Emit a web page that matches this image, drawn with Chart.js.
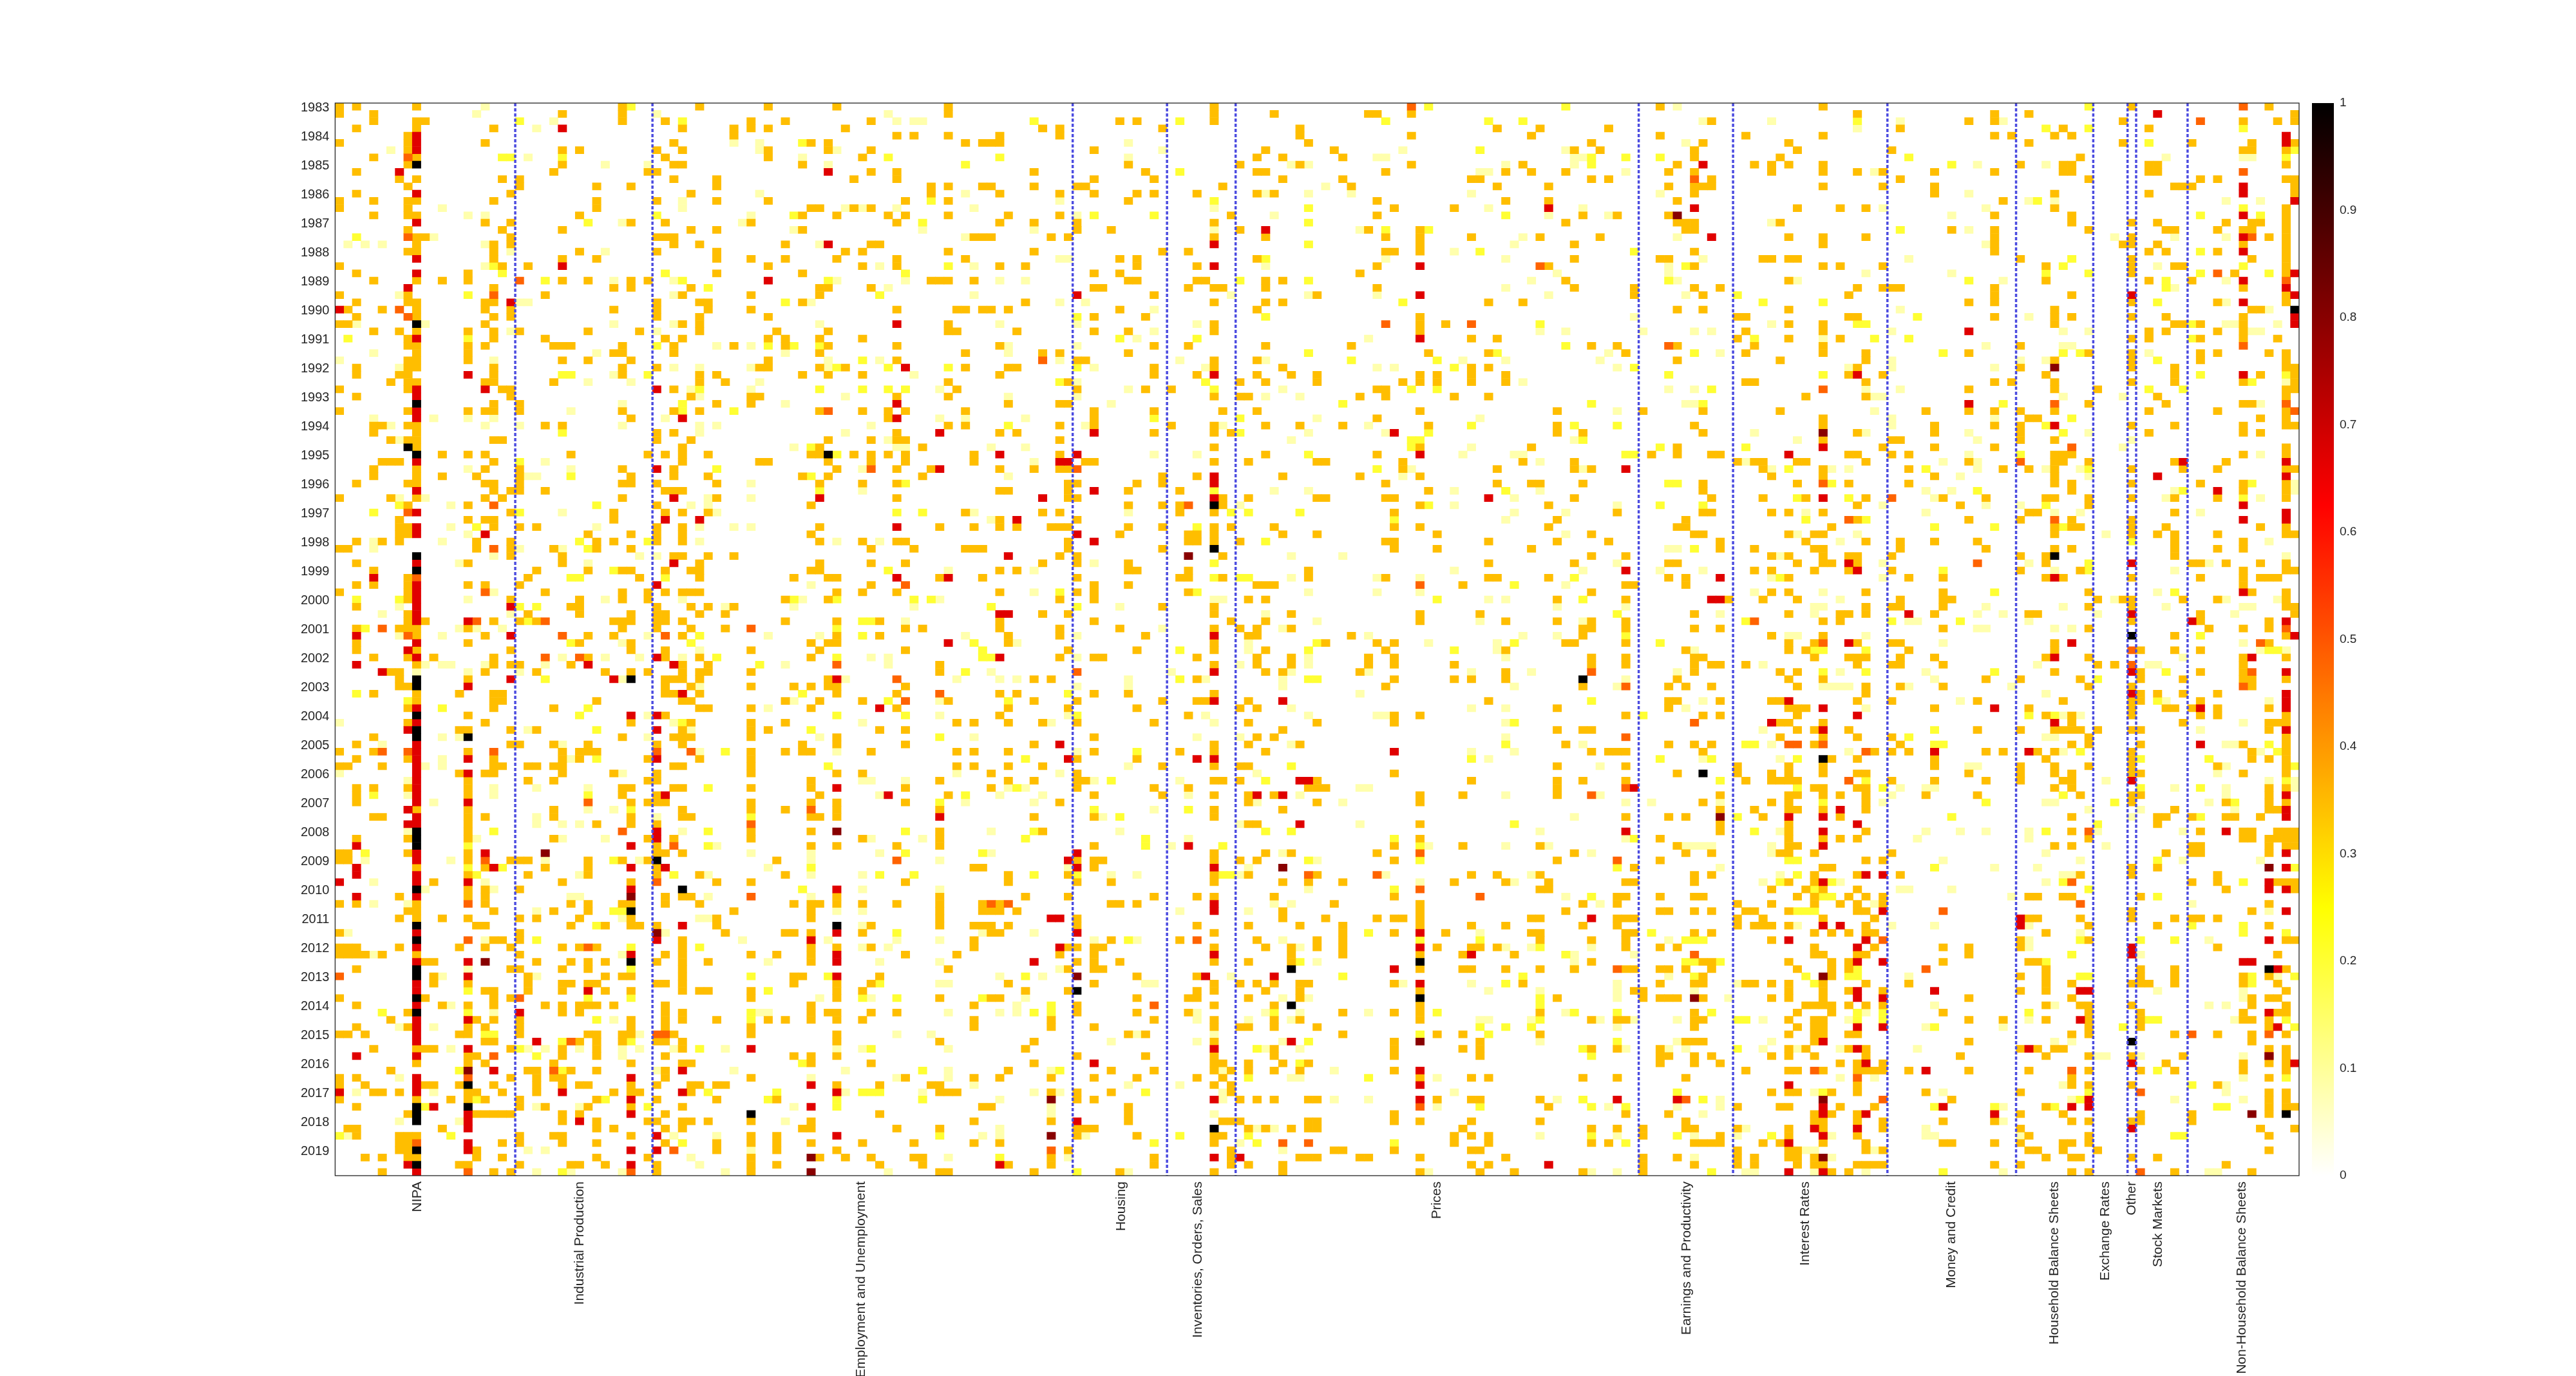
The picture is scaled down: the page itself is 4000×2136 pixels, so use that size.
<!DOCTYPE html>
<html>
<head>
<meta charset="utf-8">
<script src="https://cdn.jsdelivr.net/npm/chart.js@4"></script>
<style>
  body { margin: 0; background: #fff; }
  #main { position: absolute; left: 0; top: 0; }
  #bar { position: absolute; left: 3590px; top: 0; }
</style>
</head>
<body>
<canvas id="main" width="4000" height="2136"></canvas>
<canvas id="bar" width="100" height="2136"></canvas>
<script>
const years = [1983,1984,1985,1986,1987,1988,1989,1990,1991,1992,1993,1994,1995,1996,1997,1998,1999,2000,2001,2002,2003,2004,2005,2006,2007,2008,2009,2010,2011,2012,2013,2014,2015,2016,2017,2018,2019];
const groupNames = ['NIPA','Industrial Production','Employment and Unemployment','Housing','Inventories, Orders, Sales','Prices','Earnings and Productivity','Interest Rates','Money and Credit','Household Balance Sheets','Exchange Rates','Other','Stock Markets','Non-Household Balance Sheets'];
const groupTicks = [9.6,28.5,61.3,91.7,100.6,128.5,157.6,171.4,188.5,200.5,206.4,209.5,212.6,222.3];
const groupEdges = [21,37,86,97,105,152,163,181,196,205,209,210,216];
const colorbarTicks = [0,0.1,0.2,0.3,0.4,0.5,0.6,0.7,0.8,0.9,1];
const amberValue = 0.345, redValue = 0.67, yellowValue = 0.2, paleValue = 0.08, orangeValue = 0.48, darkValue = 0.8;

// each entry is [row, column, column, ...]; row 0 is 1983 Q1
const amberLeft = [
[0,0,2,9,33,42,50,58,71],[1,0,4,26,33,71],[2,4,9,10,33,38,48,52,62],[3,2,9,18,40,46,48,50,59],[4,8,46,65,67,71],[5,0,8,17,39,55,57,73,75],[6,8,26,28,37,40,50,57,62],[7,4,9,38,50,61],[8,8,26,39,40,54],[9,2,25,36,37,62,65],
[10,7,9,19,21,39,44,60,65],[11,8,21,30,34,44,69,71,75],[12,2,20,41,69],[13,0,4,8,9,18,30,37,44,50,66,71],[14,0,8,30,55,56,60,62],[15,4,8,9,28,54,58,64,66,71],[16,17,20,34,38,48,65],[17,8,19,26,41,44,54],[18,9,10,20,37,38,39,74,75],[19,9,18,20,39,42,52,62,63],
[20,8,9,18,28,37,44,59,61,71],[21,18,26,30,44,48,52,58,65,73],[22,0,19,22,50,61,65],[23,2,15,44,54],[24,4,9,12,15,26,29,34,36,69,70,71,74],[25,18,32,34,41,56,57,62],[26,0,8,24,40,48,56],[27,2,8,9,17,18,37,42,43,54],[28,1,5,9,17,20,32,37,43,48,65,72,73,75],[29,2,9,18,20,37,42,50],
[30,0,1,17,40,42,71],[31,4,7,9,15,18,21,29,35,42,51,57,71,72],[32,8,18,24,38,40,50,52,56,61],[33,8,9,15,17,25,26,27,33,39,46,52,57,65],[34,9,15,32,33,39,56,73],[35,8,9,15,26,29,34,50,65],[36,2,8,9,18,33,37,49,50,56,59,73],[37,2,7,8,18,33,42,44,54,57,61],[38,6,8,9,17,18,25,42,45,71],[39,0,8,19,20,39,72],
[40,2,20,41,48,49,65,71],[41,18,21,44,48],[42,0,8,15,17,18,21,33,39,42,56,61,64,66,73],[43,34,64],[44,4,5,8,9,24,26,71,73],[45,4,9,37,39,65],[46,6,8,9,18,19,37,41,57,62,65,66],[47,9,40,56,68],[48,12,15,17,27,36,38,40,43,55,56,60,62,64,66,74],[49,5,6,7,18,40,49,50,57,62,66,74],
[50,4,9,17,21,33,39,58,65,69],[51,4,9,12,16,21,34,39,43,54,57,68],[52,2,8,9,17,18,21,33,34,37,44,56,61,65],[53,18,20,21,24,38,39,40],[54,0,6,9,17,19,33,44,65],[55,8,15,37,55],[56,20,32,38,40,43,73],[57,7,15,17,18,32],[58,7,8,18,21,23,37,40,56,70,74],[59,7,8,29,34,37,40,55],
[60,2,5,7,16,20,30,32,37,40,56,61,65,66],[61,0,1,16,20,25,30,34,62,67,73,74,75],[62,20,26,39,40,43,46],[63,2,15,26,42,56,62,66],[64,4,23,29,33,34,38,41,42,55,56],[65,8,22,35,42,53,57,58,70,75],[66,2,4,8,15,17,21,62],[67,0,8,24,33,36,38,40,41,42,58,61,65],[68,8,20,28,33,36,52,57],[69,2,27,28,37,41,43,46],
[70,8,22,28,34,37,38,42,45],[71,8,10,18,21,23,32,33,34,37,38,40,52,58,63],[72,2,7,8,9,15,33,37,41,45,66,68],[73,9,17,29,32,40,58,63],[74,2,15,28,34,55,57,58],[75,2,9,20,34,38,48,56,66],[76,4,8,11,18,29,38,42,55],[77,9,18,20,21,27,40,43,70],[78,6,7,17,23,31,34,36,40,42,43,48,70],[79,7,15,38,39,40,42,57],
[80,7,8,38,41,48,53,55,57,58,66],[81,4,9,14,18,19,38,39,42,58,65],[82,9,18,19,30,40,41,52,56,61,71],[83,8,18,25,42,43,48,55,65],[84,15,38],[85,8,17,34,41,48,52,72,74],[86,14,15,20,23,40,48,50,63,66],[87,4,33,39,40,41,48,58],[88,2,20,21,25,29,37,40,54,58,66],[89,0,4,15,26,28,29,30,48,52,54,55,62,72,74],
[90,2,8,18,26,28,36,42,48],[91,0,1,5,18,19,22,23,25,26,39,40,48,72,74],[92,14,17,18,26,32,37,48,58,61],[93,15,22,25,36,37,55,70],[94,2,4,8,15,33,34,39,40,48,55,66],[95,2,15,33,37,56,71],[96,2,34,36,37,38,48,55,58,66],[97,9,15,25,40,48,52,58,70],[98,4,5,15,17,25,34,40,41,55,56,58],[99,15,30,34,37],
[100,15,48,55,70],[101,2,8,15,25,36,39,48,61,70],[102,37,55,58,65,70],[103,0,1,8,15,37,38,40],[104,0,1,15,20,21,22,29,33,36,51],[105,9,17,24,29,37,74,75],[106,15,22,29,37,42,52],[107,11,26,34,44,48,66],[108,15,17,21],[109,7,15,17,38,40,41,58,70],
[110,0,2,9,17,27,29,33,34,38,42,53,55,56,58,61,65,70,75],[111,8,9,18,25,29,46,55,70,75],[112,7,9,12,15,21,23,28,34,44,55,70],[113,16,17,27,31,34,35,37,44,62,70,74,75],[114,0,21,37,45,52,53,55,61],[115,18,19,21,40,74],[116,0,1,2,7,14,17,20,26,28,30,40,55,58,62,74],[117,0,1,2,3,5,9,21,38,40,48,51,55,66,72],[118,10,11,23,27,29,31,37,40,43,55],[119,2,20,21,26,29,40,71],
[120,11,22,31,33,34,40,53,54,63],[121,11,15,22,26,27,29,30,37,38,40,53,58,62],[122,17,18,22,26,31,34,40,42,43,48,58,61],[123,0,10,18,20,48,58,70],[124,2,12,15,18,24,26,28,29,30,32,38,55,74],[125,8,26,28,38,40,55,57,58,62,65],[126,6,16,18,21,34,38,40,44,50,52,55,58,61,74],[127,2,8,15,17,21,34,38,48,74],[128,0,1,3,14,15,21,29,30,33,34,39,48,58],[129,17,18,28,30,33,37,38,40,58,70],
[130,4,9,10,11,20,26,30,40],[131,15,16,26,30,38,53,55,58],[132,9,15,17,25,34,40,41,55,62],[133,6,22,23,27,30,38],[134,0,2,20,23,25,26,38,48,66,74],[135,0,3,10,11,14,18,23,26,28,29,34,37,41,42,44,45,58,63,69,70],[136,4,5,7,15,16,19,23,32,34,35,41,70,71,72],[137,0,9,13,15,17,21,30,37,44,51],[138,2,21,24,29,34,40,75],[139,8,16,17,18,19,20,26,28,38,63],
[140,26,30,36,37,40,41,43,48,55,74],[141,1,2,12,30,32,38,40,54,55,65,70],[142,2,7,8,9,21,25,26,34,48,51],[143,7,8,19,21,26,30,38,44,48,51,55,61,67,74],[144,7,8,16,44,51,58],[145,3,5,8,9,16,19,30,36,48,56,59,62,67,68],[146,14,15,21,27,28,31,37,48,51,63,68],[147,5,18,20,37,48,70,71]
];
const amberMid = [
[0,102],[1,102,109,120,121,125],[2,91,93,102],[3,82,84,96,112,135,140,148],[4,77,84,112,125,139],[5,76,77,113,146],[6,88,108,116,144,147],[7,107,110,117],[8,92,105,112,125,138],[9,81,94,107,108,122,136,139,143],
[10,88,95,110,117,132,133,146,148],[11,76,81,86,87,103,118,135,141],[12,77,84,88,93,95,100,107,109],[13,92,121,136,141],[14,123,130],[15,78,84,104,121,145,149],[16,77,81,86,102,143],[17,86,90,105,120,126],[18,76,83,85,102,108,122,126,132,140,147],[19,126,144],
[20,81,96,99,122,123,126],[21,91,93,107,144],[22,77,80,93,100,121,141],[23,88,91,119],[24,92,93,100,101,108,110,143],[25,88,89,99,102,103,108,121,144,151],[26,95,114,151],[27,80,102,108,110,134,138],[28,76,78,91,107],[29,88,94,126],
[30,102,126,129],[31,79,88,92,102,126],[32,132,135],[33,77,95,99,108,118,146,149],[34,82,84,92,127,134,150],[35,86,87,102,107],[36,78,79,95,102,110,132,134],[37,77,95,100,107,111,114,126,128,132,136],[38,85,105,108,114,124,126,128,132,136],[39,86,94,97,121,122],
[40,102,105,106,119,122,130,134],[41,78,84,85],[42,88,95,103,107,126,142,152],[43,88,121],[44,84,88,97,102,108,112,117,127,142],[45,77,79,95,102,104,142,145],[46,84],[47,102,126,139],[48,84,108,121],[49,87,88,102,106,114,115,124,138,144],
[50,77,81,84,85,124,135,144,146],[51,96,100,110,119,126],[52,85,86,93,96,122,135,139,140,145],[53,77,78,85,92,98,127],[54,85,86,103,106,114,115,122,123,144],[55,92,96,98,103,126,141],[56,82,84,98,102,123,149],[57,77,86,142],[58,77,79,83,84,85,92,96,102,104,109,123,126,141],[59,91,99,100,102,110,114,128,146],
[60,85,99,100,102,105,122,123,134,142,148],[61,85,96,123,128,139],[62,84,86,103,146,150],[63,82,86,92,134,144],[64,77,79,92,93,99,113],[65,86,98,99,103,113,122,134,135,141],[66,88,92,107,108,109,131,150,151],[67,77,86,88,99,146],[68,84,88,106,108,142,150],[69,96,102],
[70,82,85,102,111,126,133],[71,77,88,104,108,126,136,142,146,150],[72,77,84,91,102,105,107,111,145,146,150],[73,78,84,94,106,107,118,145],[74,78,102,115,121,123,143,144,150],[75,85,93,102,108,122,136],[76,84,88,89,100,107,111,120,123,146,150],[77,102,107,111,120,123,130,146,150],[78,108,110,119,136],[79,81,83,100,123,130,132,136],
[80,122,145],[81,77,79,88,92,102],[82,81,86,96,100,101,106,134],[83,78,85,93,105,107,142],[84,77,99,123,126,150],[85,78,82,86,95,106,114,123],[86,110,142,145,146],[87,88,107,109],[88,81,102,106,112,143],[89,78,88,98,102,108,146,148,149,150],
[90,86,93],[91,78,82,96,102,105,106,142,150],[92,76,86,123],[93,78,81,86,87,102,103,105,114,132,142,145,150],[94,76,86,95,99,113,114,115,142],[95,88,96,102,106,109,126,131,142],[96,84,106,114,126],[97,102,110],[98,81,88,102,150],[99,106,107,126],
[100,82],[101,126],[102,88,123,131,140],[103,102,108,111,121,144],[104,86,88,89,102,105,107,123,142],[105,88,151],[106,78,85,102,106,114,132,135,140],[107,78,86,90,102,110,113,117,130,136,141,150,151],[108,140,141],[109,80,85,95,100,102,109,123,149,150],
[110,77,90,91,93,116,126,145,149],[111,76,77,79,110,126,143],[112,86,110,115,121,123,124,126,139,140,149,150,151],[113,76,78,86,100,106,112,117,126,132,136,145,149],[114,76,77,102,117,123,129,139,140,150,151],[115,90,98,107,114,117,140,146,150],[116,85,86,88,89,102,108,111,114,117,128,132,133,135,150],[117,84,88,111,117,126,131,137],[118,86,88,91,102,106,111,146],[119,85,88,89,126,131,132,136,140,144,150,151],
[120,93,100],[121,78,88,102,105,107,109,112,113,123,138],[122,80,85,100,102,108,112,126,151,152],[123,76,77,93,99,100,106,112,142,152],[124,86,102,109,126],[125,86,93,99,117,123,126,140],[126,83,95,102,109,112,126,146,149,150],[127,83,88,102,105,106,109,114],[128,92,94,117,128,131,140],[129,81,102,123,133],
[130,80,109,123,131,133,146,149],[131,86,94,102,109,123,133],[132,81,102,103,106,110,113],[133,78,90,95,102,104,106,109,112,123],[134,77,83,88,93,100,103,126,132,134,145,149],[135,102,104],[136,83,86,90,104],[137,86,88,105,107,109,113,114,128,132,133,140],[138,76,92,141],[139,92,123,150],
[140,83,92,103,104,105,113,114,123,126,132,140],[141,86,87,88,106,108,111,113,114,131,146,149,152],[142,86,93,102,103,130,132,134,152],[143,77,102,130,134,146,148],[144,85,104,116,117,123,132,133],[145,83,95,104,112,113,114,119,120,126,136,152],[146,78,83,95,104,106,110,132,134,152],[147,81,91,102,110,126,133,137,145,152]
];
const amberRight = [
[0,154,173,209,225],[1,177,193,197,228],[2,160,190,193,208,222,226,228],[3,182,201,211],[4,154,164,173,193,195,200,202],[5,159,169,197,208,216,223,228],[6,158,170,181,222,223,227],[7,158,168,203],[8,156,165,167,169,173,196,201,202,211,212,227],[9,155,158,167,173,177,180,186,193,201,202,211,212],
[10,160,182,204,217,219,227,228],[11,155,158,159,160,173,180,186,214,215,216,228],[12,158,186,200,211,228],[13,156,194],[14,170,175,178,200,227],[15,155,193,202,227],[16,156,157,158,168,202,209,212,220,223,224,227],[17,157,158,188,193,204,213,214,219,222,223,227],[18,169,173,178,193,209,225,227],[19,173,193,208,209,212,222,227],
[20,158,193,211,213,219,227],[21,154,155,166,167,169,170,196,209,223,227],[22,158,173,175,180,199,209,214,215,227],[23,209,221,227],[24,169,199,211,216],[25,158,161,177,180,181,182,193,222],[26,159,176,202,193,227],[27,190,193,209,219,227],[28,156,159,169,200,223,224],[29,163,164,176,177,193,200,202,209,213,222],
[30,169,173,200,214,215,217,222],[31,164,173,211,213,219,222],[32,163,169,175,209,211,217,222,226],[33,156,165,173,196,],[34,164,173,178,190,204,209,217,219,225,227],[35,156,168,178,200,209,217,227],[36,177,196,209,214,227,228],[37,176,180,199,214,224,228],[38,164,165,178,193,195,200,209,214,222,228],[39,190,200,205,227,228],
[40,171,178,212,227],[41,204,213,222,223],[42,159,168,185,190,193,196,200,211,219,227],[43,173,197,198,224,227],[44,158,173,186,193,196,209,214,222,227,228],[45,159,177,186,196,211,222,224],[46,173,181,182,196,200],[47,156,180,186,193,227],[48,153,156,160,161,176,177,181,183,200,201,202,222,227],[49,163,165,166,170,171,178,190,200,201,204,214,220],
[50,166,173,183,194,197,200,209,215,219,227,228],[51,167,173,186,200],[52,159,170,176,183,200,202,209,217,222,227],[53,159,202,222,227],[54,160,166,171,178,187,192,199,200,204,209,214,219,227],[55,177,189,204],[56,159,160,167,169,173,197,198,214],[57,157,177,190,196,202,209],[58,156,157,174,200,202,203,209,213,224,227],[59,158,159,169,172,173,200,209,212,214,219,227,228],
[60,161,171,178,182,186,191,214,222],[61,161,165,172,173,182,192,200,202,214,219,222],[62,167,169,173,176,177,181,196,199,214],[63,155,156,170,173,174,177,199,216,217,220,224,227],[64,165,167,172,176,181,196,203,222,227,228],[65,155,157,169,183,187,199,201,209,217,222,224,225,226],[66,157,222],[67,167,169,178,187,204,223,227],[68,162,166,170,182,187,188,205,208,209,215,219,227],[69,178,181,182,187,204,209,227,228],
[70,158,169,175,176,178,186,197,198,217,228],[71,173,175,209,217,225],[72,158,161,187,204,218,222,225],[73,167,173,214,227],[74,169,172,177,181,182,200,225],[75,157,169,171,183,200,210,214,217],[76,158,159,172,176,177,178,182,186,199,204,222,227],[77,158,160,161,164,177,181,182,187,205,207,222],[78,158,168,170,200,210,217,222],[79,156,169,173,192,196,203,210,215,222,223,227],
[80,155,157,160,170,178,182,187,204,209,223],[81,178,212,215,219,210],[82,155,156,161,167,168,177,181,191,201,209,210,217],[83,155,169,170,171,186,197,209,213,214,216,219,225],[84,159,161,170,199,202,209,217,219,227],[85,168,169,173,202,215,225,226,227],[86,170,172,176,191,196,200,201,202,203,205,209,210,225],[87,168,173,177,181,204,227],[88,155,158,160,172,182,202,204,210,222,227],[89,159,179,181,183,192,194,198,200,209,223,227],
[90,174,177,186,199,209,223,225,227],[91,163,169,173,186,196,200,204,209,219,227],[92,156,163,167,169,173,177,178,190,196,200,202,209,210,222,227],[93,164,167,168,169,170,181,186,192,196,201,202],[94,172,173,177,178,200,202,225,227],[95,161,169,170,173,175,178,185,191,203,209,210,225],[96,159,167,169,178,209,220,225,227],[97,161,165,169,170,173,178,214,225,226],[98,155,157,166,175,202,212,213,216,220,221,224],[99,161,169,212],
[100,161,169,178,202,217,222,223,226,227,228],[101,154,169,173,175,177,204,222,223,225,226,227,228],[102,156,169,170,200,202,216,217,225,227,228],[103,157,160,168,169,172,181,213,216,217,225],[104,154,178,180],[105,173,174,209,212],[106,158,160,172,177,182,203,209,219],[107,158,169,172,216,219,226,227,228],[108,167,171,173,177,220,228],[109,154,158,159,170,172,176,178,180,197,198,201,202,210],
[110,163,167,172,175,177,180,225],[111,154,155,158,160,164,165,169,177,178,209,223],[112,163,166,173,179,197,198,203,209,214,216,217,219],[113,163,165,166,167,169,178,204,212,225],[114,158,160,172,174,176,178,179,199],[115,167,196,204,227,228],[116,154,156,172,179,187,190,196,219],[117,172,173,177,178,190,226],[118,159,160,169,174,176,187,197,198],[119,154,155,157,160,170,174,176,199,210,214,227],
[120,159,174,196,199,210,214,222,225],[121,154,158,159,164,165,167,169,173,178,183,199,202,209,210,211,214,222,226],[122,169,173,176,180,196,199,227],[123,154,155,156,159,167,169,173,190,202,223,225,226],[124,171,172,173,174,176,178,180,199,203,204,209,223,227],[125,158,170,174,187,204,210,222,226,227],[126,158,159,169,172,173,190,194,199,204,210,222,223,225],[127,158,170,172,173,204,210,225],[128,169,172,173,176,177,202,204,214,219,223,227],[129,157,158,159,172,190,223],
[130,154,169,171,176,178,196,198,200,201,225,227],[131,154,155,158,160,167,169,172,178,189,199,204,209,215,227],[132,154,158,161,175,177,180,213,222,225,227],[133,164,169,170,173,177,178,179,180,183,190,197,204,210,214,222,227],[134,157,202,225],[135,177,202,204,209,219],[136,167,169,170,174,177,185,196,225,227],[137,188,225,227],[138,163,168,169,175,179,199,225,227,228],[139,155,172,174,177,196,201,210,216,225],
[140,157,172,173,177,180,187,193,202,204,209,210,216],[141,157,158,163,169,173,180,196,224,228],[142,161,169,177,197,204,225],[143,158,159,160,161,166,168,173,178,187,188,193,196,201,202,204],[144,163,169,170,178,180,197,198,201,205,225],[145,156,163,165,169,170,172,199,202,203,209,212],[146,158,163,165,170,172,173,177,178,179,180,193,196,220],[147,174,176,202,204,214,223]
];
const paleCells = [
[0,17],[1,16,37,64],[2,25,65,67,68],[3,23,177],[5,46,49,92],[6,6,49,58,96,124,143],[7,22,54,92,121,122,144,145],[8,57,31,36,111,113,136,144],[9,133,134,150],[11,115],
[12,49,73,108,113,118,132],[13,40,84],[14,12,59,61,65,74,40,102,134,145],[15,15,17,48,86,109,141,148],[16,33,47],[17,53,68,81,102,119],[18,11,73,138],[19,1,3,5,17,56,137],[20,20,31,130],[21,84,85,108,122,136],
[22,17,63,74,108],[23,142],[24,32,39,58,66,77,80,139],[25,64,136],[26,7,39,74,104,113,121,141],[27,21,22,55,84,87],[28,95],[29,151],[30,2,10,32,39,56,77,86,100],[31,20,37,95,140,143,152],
[32,93,120],[33,44,48,78,86],[34,4,30,52,78,113,148],[35,0,18,57,63,84,98,108,131,136,147],[36,7,39,42,48,57,88,101,121,123,149],[37,32,67],[38,29,34,49,86,138],[39,41,48,70,92,110],[40,42,59,78,86,108,112],[41,33,52,90],
[42,27,149],[43,4,11,15,18,38,70,73,80,114,133],[44,6,17,21,33,42,44,62,87,103,120],[45,42,59,113,122],[46,7,64,111,144],[47,53,65,66,76,80,132],[48,95,100,131,137,138],[49,24,81,140],
[0,156],[2,159,167,194,182],[3,177],[5,157,223],[7,213,222,223],[8,191,199],[9,179],[12,154,190],[13,197,200,220,224],[14,180,192],[15,188],[16,167],[17,190],[18,156,207,214,220],[19,192],[21,159,183],[22,155,212],[23,155,178,188],[24,156,170,194,220],[25,214],[26,157],[27,212,220],[28,182,225],[29,197],[30,167,220,221,226],[31,158,160,181,201,204,223,224],[32,173],[33,192,201,202],[34,161,211],[35,181,196,199],[36,176,181,193,196],[38,223,227],[39,155,158,178,182],[40,179,180,201,208],[41,157,158,224],[42,179],[43,181,193],[44,181],[45,165,178,190,204],[46,170,191,209],[47,208],[48,190,224],[49,164,187,191],
[50,15,27,61,121,125,145,167,174,176,191,199,203],[51,22,23,78,124,189,204],[52,48,228],[53,61,109,113,130,140,185,188,214,228],[54,7,10,43,48,137,186,213,224],[55,13,41,43,105,130,149,180,192,196],[56,26,44,74,92,137,143,171,185,200,203,217],[57,76,136],[58,13,30,42,46,48],[59,15,143,170,177,206],
[60,4,12,42,58,63,175,225],[61,4,21,26,102,155,156],[62,18,35,37,111,117,168,227],[63,14,29,88,149,180,197,218],[64,81,71,130,145,154,159,200,214],[65,111,121,126,167,180],[66,55,137,143],[67,18,81,113,121,126,165,173,212],[68,15,31,40,54,70,102,103,134,136,175,207,220,226],[69,7,45,53,67,91,142,150,172,173,192,201,213,222,223],
[70,5,20,108,161,172,191,194,205,221],[71,66,18,114,133,145,183,184,197],[72,14,16,19,96,110,191,192,200,202],[73,7,12,36,50,56,73,86,120,138,142,169,170,178],[74,33,79,106,127,135,187,222],[75,42,106,135,158,224,227],[76,26,31,35,40,62,64,86,113,136,215],[77,10,12,13,17,24,52,64,105,113,166,198,211,212],[78,9,15,21,76,97,111,120,132,139,156,175,185],[79,33,59,72,77,79,92,101,110,150,186],
[80,42,86,92,110,137,149,173,174,175,176,183,195],[81,119,199],[82,53,70,159,189,213,225],[83,50,111,132,136,157,178],[84,36,70,85,101,121,122,113,201,203],[85,0,39,61,83,102,136,222],[86,22,41,166,217],[87,12,14,36,56,74,100,105,136,199,200],[88,5,26,111,145,167,220,221],[89,42,58,86,132,137,176,201,224],
[90,12,27,134,159,168],[91,10,12,92,147,190,191,220],[92,0,33,72,84,107,219],[93,8,61,62,66,88,98,206,225,228],[94,18,23,29,78,80,119,120,182,185,186,214,220,228],[95,8,18,63,77,82,99,112,136,147,181,220],[96,11,73,81,107,117,150,153,161,180,199,200,218],[97,29,32,95,204,210,221],[98,23,37,89,144,209],[99,23,26,28,105,119],
[100,8,40,76,91,140,168,185,189,192,197,205,215],[101,16,26,31,48,62,68,99,150,184,197],[102,44,97,127,136,141,157,158,159,160,167,206],[103,48,55,63,76,110,146,167,199],[104,3,13,24,35,55,70,114,187,203,215,224],[105,50,85,106,161,193,198],[106,28,43,55,61,90,93,105,122,139,168,201,202],[107,4,17,126,137,166,175,199],[108,10,18,61,70,113,182,183,188],[109,27,28,43,55,143,195],
[110,4,8,109,111,147,179,216],[111,23,58,61,98,106,225],[112,33,42,43],[113,61,170,175,181,186,197],[114,1,38,75,81,133,203],[115,17,47,57,70,65,88,93,110,155,197,218],[116,64,61,112,136,139,146,197],[117,4,33,144,151,210],[118,50,63,70,114,144],[119,15,84,],
[120,12,23,77,82,104,155,183,226],[121,94,95,70,71,124,132,149,163],[122,134,140,149,158,212,222],[123,56,62,80,110,113,149,162,222],[124,13,79,186,200,218,220],[125,18,49,50,71,77,79,100,108,112,120,143,178],[126,32,100,111,106,133,134,139,147,151,156,166,176,197,221],[127,7,11,139,149,185,194],[128,35,65,69,93,102],[129,90,100,110,140,156,167,200,202],
[130,13,22,24,28,33,35,39,45,58,61,71,107,108,112,150,155,157,166,170,175,184],[131,33,205,206,210,222],[132,],[133,37,46,59,71,83,103,116],[134,7,55,65,71,111,112,128,175,179,222],[135,74,92,98,201,220],[136,2,11,59,68,81,84,103,130,172,187,220],[137,77,103,116,120,142,161,202,214,222],[138,23,28,53,83,128,148,156,161,194],[139,83,102,159],
[140,7,14,52,194],[141,77,107,109,164,185],[142,1,39,44,75,77,87,140,149,158,163,185,186,196,174],[143,105],[144,22,24,48,110,171,172,179],[145,41,71,85,158,174],[146,42],[147,23,27,33,45,64,92,127,146,149,164,165,172,178,194,218,219]
];
const yellowCells = [
[0,34,127,143,204],[2,21,40,81,98,122,134,138,177],[3,199,204,222],[5,54,211],[6,133,158,228],[7,19,20,26,64,77,150,146,154,183,227],[8,73,146,188],[9,98],[13,69,102,198],[14,113,222],
[15,37,53,88,95,136,217,224],[16,29,68,113],[17,86,122,127,182],[18,2],[19,113],[20,133,151,217],[21,108,202],[22,18,71,157,201,222],[23,19,38,66,199,204,217,225],[24,24,40,57,105,113,155,190,213],
[25,43,213],[26,15,63,163],[27,52,124,173,166,212],[29,86,108,184],[30,140,177,178,216],[32,1,15,91,100,165,179,183,216],[33,37,50,53,56,143],[34,113,135,158,150,187,201,203],[35,61,118,128,212],[36,58,64,71,86,130,151],
[37,26,27,36,155,173,217,227],[38,84,101,223],[39,42,56,61,64,66,102,125,128,160,211,215],[41,40,117,146,159,194],[42,40,46],[43,95,105,202],[44,78,132,144,149,199],[45,26,105,127,201],[46,125,126,145],[47,55,125,154,164],[48,58,113,150,151,196],[49,21],
[50,44,121,169,185,204],[51,27,55],[52,66,155,156,174,223],[53,56,102,136,191,215],[54,170,176,222],[55,7,30,127,154,159,199],[56,4,21,65,68,104,106,112],[57,123,171,178],[58,16,100,186,193,201],[60,28,36,108,209],
[61,29,158],[62,],[63,102,204],[64,32,64,187,204],[65,27,28,38,102,105,106,144,168],[66,137],[67,84,100,193,214],[68,2,7,53,58,67,69,128,145],[69,21,23,76,86],[70,149,],
[71,22,61,62,164,181,189],[72,3,58,],[73,42,61,150,217],[74,27,41,74,114,137,154],[75,75,98,113,130,172,173,178,225,226],[76,44,58,75,76],[77,49],[78,73,173,178,193,213],[79,24,98,113,114,205],[81,2,54,85],
[82,8,64,78,146,212],[83,12,29],[84,28,58,66,86,152,197,200],[85,40,137],[86,30,55,186],[87,70,183],[88,136,164,165,186,187,225],[89,45,93,203,226],[90,30,80,132,154,160,170,210,218],[91,57,111,228],
[93,90,108,161,178,227],[94,43,79,170,180,210,217],[95,4,29,73,201],[96,70,173,192,207,221],[97,34,88,99],[98,48,91,163,188,217],[99,137,205],
[100,18,43,66,81,108,111,165,199],[101,123,94,80,151],[102,15,43,94,103,126,156],[103,3,66,75],[104,32,113,126,169,170,212],[105,15,19,55,149,186,228],[106,16,39,63,67,81,86,103,104,170],[107,168,174,201,222],[108,54,123,172,204],[109,173,174,146,212],
[111,32,33,170,171,172],[113,30,216,222],[114,65,120,153,222,227],[115,23,92,126,133,157,158,159,203,210,214],[116,34,42,140],[117,143,202],[118,112,157,158,161,199],[119,34,177,144],[120,48,57,80,117,138,158,171,176,177,203,204,223,228],[121,63,136,172,223],
[122,15,50],[123,29,34,61,65,75,140],[124,83,140],[125,5,15,48,81,83,109,128,144,149,160,177,180,197],[126,30,48,140,163,164,177,180,211,212,227],[127,133,136,139,186,208,228],[128,17,18,126,134],[129,26,34,113,149],[130,21,42,62,107,145,163],[131,23,146],
[132,54,112],[133,14,26,68,84,212],[134,106,120,149,227],[135,216],[136,43,51,61,62,63,94,156,173,204],[137,16,31,50,58,68,145,159,203],[138,10,36,58,133,146,150,186,193,200,219,220],[142,0,13,70,98,106,146,156,167,214,215],[143,40,95,107,123,150],[145,77,],[147,26,86,160,187]
];
const orangeCells = [
[0,125,222],[2,217],[7,8],[9,222],[10,158],[18,8,223],[22,140],[23,219],[24,21,227],[26,18],[28,7],[29,8],[30,122,132],[33,155,222],[35,82],[39,173],[41,200,227],[42,57,228],[47,202],[49,196],
[50,62,86],[52,173],[54,181],[55,18,99],[56,8],[57,176,200],[61,18],[63,191],[65,9],[66,126,66],[67,17],[71,16,24,165],[72,5,48,227],[73,8,26,38],[74,173,224],[75,209],[76,24,28],[77,58,209],[78,86,146,223],[79,65],
[80,150,222],[81,70],[82,66],[85,158],[87,150],[88,169,170,173],[89,5,8,18,37,41,178],[93,176],[94,150],[95,146],[96,29],[97,55],[99,48],
[100,33,204],[102,39],[103,126],[104,17,65,149],[106,113,121],[107,37,202],[108,126],[109,48,133],[110,15,76,78,203],[111,187],[115,15,100,180],[116,29],[117,158],[119,149,185],[120,0],[123,21],[124,95],[128,37,38,216,225],[129,27],
[131,18],[133,25,172,202],[134,15,177],[136,210],[137,157,180],[138,126],[143,9,110,113],[144,39,83],[147,15,34,210]
];
const redCells = [
[1,212],[3,26],[4,9,227],[5,9,227],[6,9],[8,159],[9,7,57],[11,222],[12,9,222],[13,228],[14,141,158],[15,222],[16,9],[17,108],[18,160,222],[19,57,102],[20,222],[21,9],[22,26,102,126],[23,9,228],
[24,50,222],[25,8,227],[26,86,126,209,228],[27,20,222],[28,0],[29,228],[30,65,228],[31,190],[32,9,126],[36,66],[37,15,102,177,222],[39,9,17,37],[40,9],[41,65,190],[42,9],[43,9,40,65],[44,200],[45,70,88,123],[47,173],[48,77,86,126,169],
[49,9,84,85,215,227],[50,37,70,150],[51,102,212,227],[52,102],[53,9,88,219],[54,39,56,82,102,134,173],[55,222],[56,9,227],[57,38,42,79,222,227],[58,9,65],[59,9,17,86],[60,88],[62,78],[63,9,39,176,209],[64,150,177],[65,4,65,71,161,200],[66,9,37],[67,9,222],[68,9,160,161],[69,9,20],
[70,9,77,78,183,209],[71,9,15,216,227],[73,2,20,102,228],[74,9,71,176,202],[75,8],[76,9,37,77,200,223],[77,2,29,39],[78,5,102,209,227],[79,20,32,58],[80,15],[81,40,209,227],[82,102,110,169,227],[83,9,63,173,193,217,227],[84,34,37,177],[85,9,167,200],[86,8,37,173,227],[88,9,84,217],[89,9,123,186,197],[90,9,15,37,85,100,102],[91,9],
[92,9,15],[93,9,112,113,209],[94,9,58,151],[95,9,38,64,107,110,227],[96,9,15],[97,8,175,227],[98,9,70,169,173,227],[99,8,9,112,177],[100,37,150,173,220],[101,37],[102,2,34,99,173],[103,9,17,86,227],[104,9,85],[105,2,18,34,38,86,102,227],[106,2,9,178,180],[107,0,9,15,173,225],[108,34,58,225,227],[109,2,9],[110,102],[111,102,180,227],
[112,83,84,146,196],[113,40,173,175,196],[114,9,58,86,126],[115,37,55,169,178,225],[116,9,84,126,177,209],[117,34,58,102,132,209],[118,9,15,58,81,177,180,222,223],[119,123,226],[120,15,58,101,109],[121,9,126],[122,9,29,177,186,203,204],[123,177,180],[124,9],[125,21,225],[126,9,15,203],[127,9,177,180,226],[128,9],[129,9,23,111,173],[130,15,48,102,177,197],[131,2,9,225],
[132,88,178,209,228],[133,18,40,126,185],[134,9,34],[135,9,55,126,169],[136,0,9,26,40,58],[137,34,102,126,149,156,204],[138,11,55,173,187,202,204],[139,15,34,173,178,193],[140,15,28,86],[141,15,172,177,209],[142,37,58,173],[143,15,169],[144,15,34,37],[145,102,105],[146,8,34,77,141],[147,9,169,173]
];
const darkCells = [[15,156],[36,200],[45,173],[62,99],[98,161],[100,58],[103,24],[105,110,225],[109,34],[114,37],[118,17],[120,86,173],[123,158],[129,126],[131,225],[133,15],[137,83,173],[139,223],[142,83],[145,55,173],[147,55]];
const blackCells = [
[8,9],[28,228],[30,9],[41,9],[47,8],[48,9,57],[55,102],[61,102],[62,9,200],[64,9],[73,209],[79,9,34,145],[80,9],[84,9],[86,9],[87,9,15],[90,173],[92,159],
[100,9],[101,9],[102,9],[104,37],[108,9,40],[111,34],[113,9,58],[115,9],[118,34,126],[119,9,111,225],[120,9],[122,86],[123,9,126],[124,111],[125,9],[129,209],[135,15],[138,9,15],[139,9,48,227],[140,9],[141,102],[144,9],[146,9]
];

function hotColor(v) {
    const t = 1 - v;
    const r = Math.min(1, t / 0.375);
    const g = Math.max(0, Math.min(1, (t - 0.375) / 0.375));
    const b = Math.max(0, Math.min(1, (t - 0.75) / 0.25));
    return `rgb(${Math.round(r * 255)},${Math.round(g * 255)},${Math.round(b * 255)})`;
}

function addCells(out, list, v) {
    list.forEach((row) => {
        row.slice(1).forEach((c) => out.push({ x: c + 0.5, y: [row[0], row[0] + 1], v: v }));
    });
}

const cells = [];
addCells(cells, paleCells, paleValue);
addCells(cells, yellowCells, yellowValue);
addCells(cells, amberLeft, amberValue);
addCells(cells, amberMid, amberValue);
addCells(cells, amberRight, amberValue);
addCells(cells, orangeCells, orangeValue);
addCells(cells, redCells, redValue);
addCells(cells, darkCells, darkValue);
addCells(cells, blackCells, 1);

const edgeSets = groupEdges.map((e) => ({
    type: 'line',
    data: [{ x: e, y: 0 }, { x: e, y: 148 }],
    borderColor: '#4c4ce0',
    borderWidth: 3.5,
    borderDash: [5, 3],
    pointRadius: 0,
    order: -1
}));

const fontSpec = { family: '"Liberation Sans", Arial, sans-serif', size: 20 };

const boxPlugin = {
    id: 'box',
    afterDraw(chart) {
        const a = chart.chartArea;
        chart.ctx.save();
        chart.ctx.strokeStyle = '#262626';
        chart.ctx.lineWidth = 1.3;
        chart.ctx.strokeRect(a.left, a.top, a.right - a.left, a.bottom - a.top);
        chart.ctx.restore();
    }
};

new Chart(document.getElementById('main'), {
    type: 'bar',
    data: {
        datasets: [{
            data: cells,
            backgroundColor: (ctx) => hotColor(ctx.raw ? ctx.raw.v : 0),
            barThickness: 13.32,
            grouped: false,
            borderWidth: 0
        }].concat(edgeSets)
    },
    plugins: [boxPlugin],
    options: {
        responsive: false,
        animation: false,
        events: [],
        layout: { padding: { top: 160, right: 430, left: 0, bottom: 0 } },
        plugins: { legend: { display: false }, tooltip: { enabled: false } },
        scales: {
            x: {
                type: 'linear',
                offset: false,
                min: 0,
                max: 229,
                grid: { display: false, drawTicks: false },
                border: { display: false },
                afterFit(axis) { axis.height = 311; },
                afterBuildTicks(axis) { axis.ticks = groupTicks.map((v) => ({ value: v })); },
                ticks: {
                    autoSkip: false,
                    minRotation: 90,
                    maxRotation: 90,
                    padding: 9,
                    color: '#262626',
                    font: { family: fontSpec.family, size: 21 },
                    callback: (value, i) => groupNames[i]
                }
            },
            y: {
                type: 'linear',
                reverse: true,
                min: 0,
                max: 148,
                grid: { display: false, drawTicks: false },
                border: { display: false },
                afterFit(axis) { axis.width = 520.4; },
                afterBuildTicks(axis) { axis.ticks = years.map((y, i) => ({ value: 4 * i + 0.5 })); },
                ticks: {
                    autoSkip: false,
                    padding: 9,
                    labelOffset: 2,
                    color: '#262626',
                    font: fontSpec,
                    callback: (value, i) => String(years[i])
                }
            }
        }
    }
});

new Chart(document.getElementById('bar'), {
    type: 'bar',
    data: {
        labels: ['c'],
        datasets: [{
            data: [[0, 1]],
            barPercentage: 1,
            categoryPercentage: 1,
            borderWidth: 0,
            backgroundColor(ctx) {
                const a = ctx.chart.chartArea;
                if (!a) return '#000';
                const g = ctx.chart.ctx.createLinearGradient(0, a.bottom, 0, a.top);
                for (let i = 0; i <= 64; i++) g.addColorStop(i / 64, hotColor(i / 64));
                return g;
            }
        }]
    },
    options: {
        responsive: false,
        animation: false,
        events: [],
        layout: { padding: { top: 160, bottom: 311, left: 0, right: 0 } },
        plugins: { legend: { display: false }, tooltip: { enabled: false } },
        scales: {
            x: { display: false },
            y: {
                position: 'right',
                min: 0,
                max: 1,
                grid: { display: false, drawTicks: false },
                border: { display: false },
                afterFit(axis) { axis.width = 66; },
                afterBuildTicks(axis) { axis.ticks = colorbarTicks.map((v) => ({ value: v })); },
                ticks: {
                    padding: 9,
                    color: '#262626',
                    font: { family: fontSpec.family, size: 19 },
                    callback: (value) => String(value)
                }
            }
        }
    }
});
</script>
</body>
</html>
